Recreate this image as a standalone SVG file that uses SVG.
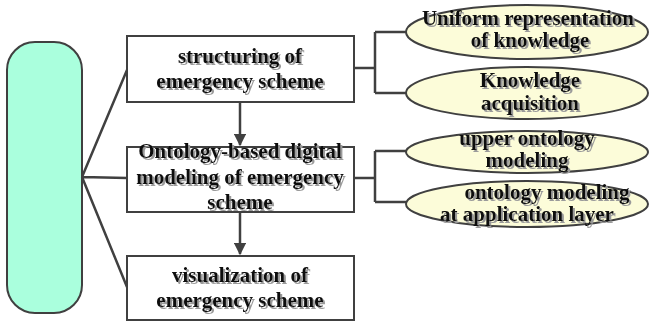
<svg xmlns="http://www.w3.org/2000/svg" width="650" height="322" viewBox="0 0 650 322">
<defs>
<filter id="sh" x="-10%" y="-20%" width="120%" height="150%"><feDropShadow dx="2" dy="2" stdDeviation="0.6" flood-color="#9a9a9a"/></filter>
<marker id="ah" viewBox="0 0 10 10" refX="9" refY="5" markerWidth="5" markerHeight="5" orient="auto"><path d="M0,0L10,5L0,10z" fill="#404040"/></marker>
</defs>
<style>
.box{fill:#fff;stroke:#404040;stroke-width:2}
.ell{fill:#fcfcd9;stroke:#404040;stroke-width:2}
.t{font-family:'Liberation Serif','Times New Roman','DejaVu Serif',serif;font-weight:700;font-size:21px;fill:#111;text-anchor:middle}
.c{fill:none;stroke:#404040;stroke-width:2.5}
</style>
<rect width="650" height="322" fill="#fff"/>
<g id="pill"><rect x="7" y="42" width="75" height="271" rx="28" fill="#aaffdd" stroke="#404040" stroke-width="2"/></g>
<g id="connectors">
<path class="c" d="M82,177L127,70M82,177L127,178M82,177L127,287"/>
<path class="c" d="M240,102V145" marker-end="url(#ah)"/>
<path class="c" d="M240,212V254" marker-end="url(#ah)"/>
<path class="c" d="M354,68H375M375,32V93M375,32H406M375,93H406"/>
<path class="c" d="M354,178H375M375,151V202M375,151H406M375,202H406"/>
</g>
<g id="box1"><rect class="box" x="127" y="36" width="227" height="66"/>
<g filter="url(#sh)"><text class="t" x="240" y="63">structuring of</text><text class="t" x="240" y="88">emergency scheme</text></g></g>
<g id="box2"><rect class="box" x="127" y="147" width="227" height="65"/>
<g filter="url(#sh)"><text class="t" x="240" y="158">Ontology-based digital</text><text class="t" x="240" y="184">modeling of emergency</text><text class="t" x="240" y="209">scheme</text></g></g>
<g id="box3"><rect class="box" x="127" y="256" width="227" height="64"/>
<g filter="url(#sh)"><text class="t" x="240" y="282">visualization of</text><text class="t" x="240" y="307">emergency scheme</text></g></g>
<g id="e1"><ellipse class="ell" cx="527" cy="32" rx="121" ry="27"/>
<g filter="url(#sh)"><text class="t" x="528" y="25">Uniform representation</text><text class="t" x="530" y="47">of knowledge</text></g></g>
<g id="e2"><ellipse class="ell" cx="527" cy="93" rx="121" ry="26"/>
<g filter="url(#sh)"><text class="t" x="530" y="87">Knowledge</text><text class="t" x="530" y="110">acquisition</text></g></g>
<g id="e3"><ellipse class="ell" cx="527" cy="152" rx="121" ry="21"/>
<g filter="url(#sh)"><text class="t" x="527" y="145">upper ontology</text><text class="t" x="527" y="167">modeling</text></g></g>
<g id="e4"><ellipse class="ell" cx="527" cy="204" rx="121" ry="23"/>
<g filter="url(#sh)"><text class="t" x="547" y="199">ontology modeling</text><text class="t" x="527" y="221">at application layer</text></g></g>
</svg>
